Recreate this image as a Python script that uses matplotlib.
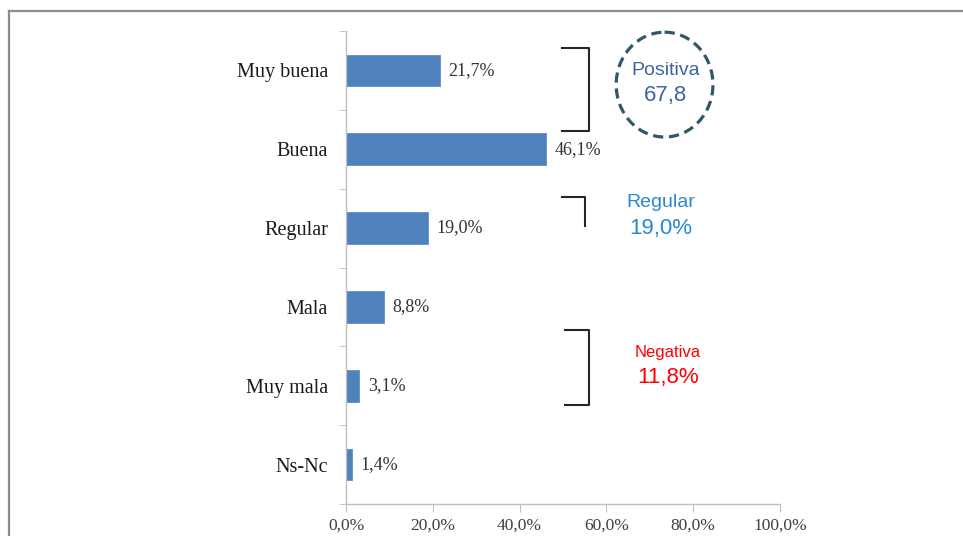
import matplotlib
matplotlib.use("Agg")
import matplotlib.pyplot as plt
from matplotlib.patches import Ellipse
from matplotlib.lines import Line2D

categories = ["Muy buena", "Buena", "Regular", "Mala", "Muy mala", "Ns-Nc"]
values = [21.7, 46.1, 19.0, 8.8, 3.1, 1.4]
xticks = [0, 20, 40, 60, 80, 100]
xtick_labels = ["0,0%", "20,0%", "40,0%", "60,0%", "80,0%", "100,0%"]

W, H = 963, 536
fig = plt.figure(figsize=(W / 100, H / 100), dpi=100)
fig.patch.set_facecolor("white")

# frame lines (top and left)
fig.add_artist(Line2D([9 / W, 1], [1 - 11 / H, 1 - 11 / H], color="#8c8c8c", lw=1.6))
fig.add_artist(Line2D([9 / W, 9 / W], [0, 1 - 11 / H], color="#8c8c8c", lw=1.6))

ax = fig.add_axes([346 / W, (H - 504) / H, (780 - 346) / W, (504 - 31) / H])
ypos = list(range(len(categories)))
ax.barh(ypos, values, height=0.4, color="#4f81bd", edgecolor="#5b8fd0", linewidth=0.6)
ax.set_xlim(0, 100)
ax.set_ylim(5.5, -0.5)

serif = "Liberation Serif"
ax.set_yticks(ypos)
ax.set_yticklabels(categories, fontsize=14.5, family=serif, color="#1a1a1a")
ax.set_yticks([i - 0.5 for i in range(len(categories) + 1)], minor=True)
ax.tick_params(axis="y", which="major", length=0, pad=13)
ax.tick_params(axis="y", which="minor", length=5, color="#bfbfbf", direction="out")
ax.set_xticks(xticks)
ax.set_xticklabels(xtick_labels, fontsize=12.5, family=serif, color="#404040")
ax.tick_params(axis="x", length=6, color="#bfbfbf", pad=4)

for s in ["top", "right"]:
    ax.spines[s].set_visible(False)
for s in ["left", "bottom"]:
    ax.spines[s].set_color("#bfbfbf")
    ax.spines[s].set_linewidth(1.0)

for y, v in zip(ypos, values):
    ax.annotate(f"{v:.1f}%".replace(".", ","), (v, y), xytext=(6, 0),
                textcoords="offset points", va="center", ha="left",
                fontsize=13, family=serif, color="#333333")

bk = dict(color="#262626", lw=1.5, clip_on=False)
# Positiva bracket
ax.plot([49.8, 56.0, 56.0, 49.8], [-0.28, -0.28, 0.77, 0.77], **bk)
# Regular bracket
ax.plot([49.8, 55.1, 55.1], [1.61, 1.61, 1.97], **bk)
# Negativa bracket
ax.plot([50.5, 56.0, 56.0, 50.5], [3.29, 3.29, 4.25, 4.25], **bk)

ell = Ellipse((73.4, 0.18), 22.3, 1.33, fill=False, edgecolor="#2e5a66",
              lw=2.3, ls=(0, (3.2, 1.8)), clip_on=False)
ax.add_patch(ell)

sans = "Liberation Sans"
ax.text(73.6, 0.0, "Positiva", ha="center", va="center", fontsize=14, family=sans, color="#3f62a0")
ax.text(73.6, 0.32, "67,8", ha="center", va="center", fontsize=16, family=sans, color="#3f62a0")
ax.text(72.6, 1.67, "Regular", ha="center", va="center", fontsize=14, family=sans, color="#2a88d0")
ax.text(72.6, 2.0, "19,0%", ha="center", va="center", fontsize=16, family=sans, color="#2a88d0")
ax.text(74.2, 3.58, "Negativa", ha="center", va="center", fontsize=12, family=sans, color="#ff0000")
ax.text(74.2, 3.89, "11,8%", ha="center", va="center", fontsize=16, family=sans, color="#ff0000")

fig.savefig("out.png", dpi=100)
